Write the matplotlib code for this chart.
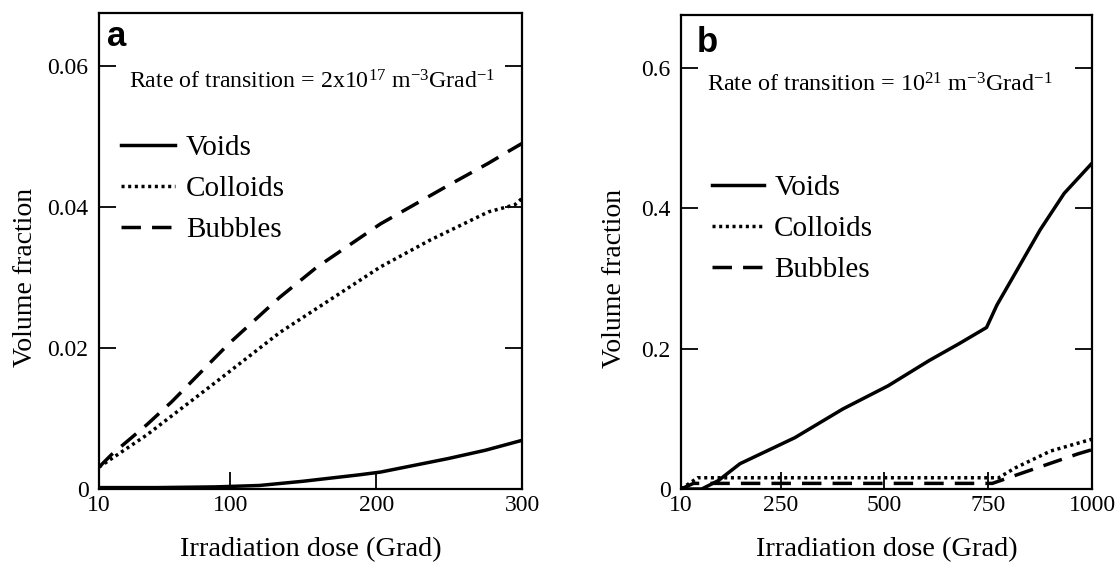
import numpy as np
import matplotlib
matplotlib.use("Agg")
import matplotlib.pyplot as plt

# panel a data (rate of transition 2x10^17)
dose_a_voids = [10, 50, 90, 120, 150, 188, 203, 249, 275, 300]
voids_a = [0.0002, 0.0002, 0.0003, 0.0005, 0.0011, 0.0020, 0.0024, 0.0043, 0.0055, 0.0069]
dose_a_coll = [10, 43, 91, 134, 203, 237, 277, 295, 300]
colloids_a = [0.0031, 0.0077, 0.0153, 0.0222, 0.0315, 0.0353, 0.0393, 0.0403, 0.0412]
dose_a_bub = [10, 18.7, 42.7, 60, 99, 134, 159, 203, 249, 277, 290, 300]
bubbles_a = [0.0031, 0.0049, 0.0091, 0.0124, 0.0206, 0.0272, 0.0314, 0.0376, 0.0430, 0.0462, 0.0478, 0.0490]

# panel b data (rate of transition 10^21)
dose_b_voids = [10, 60, 100, 152, 284, 400, 509, 608, 680, 746, 771, 808, 875, 933, 1000]
voids_b = [0.0, 0.0, 0.012, 0.036, 0.073, 0.114, 0.147, 0.183, 0.207, 0.230, 0.262, 0.300, 0.369, 0.421, 0.464]
dose_b_coll = [10, 50, 300, 500, 775, 815, 900, 1000]
colloids_b = [0.0, 0.016, 0.016, 0.016, 0.016, 0.030, 0.054, 0.071]
dose_b_bub = [10, 40, 300, 500, 760, 833, 966, 1000]
bubbles_b = [0.0, 0.008, 0.008, 0.008, 0.008, 0.023, 0.050, 0.056]

xticks_a = [10, 100, 200, 300]
xticks_b = [10, 250, 500, 750, 1000]
yticks_a = [0, 0.02, 0.04, 0.06]
ytick_lab_a = ['0', '0.02', '0.04', '0.06']
yticks_b = [0, 0.2, 0.4, 0.6]
ytick_lab_b = ['0', '0.2', '0.4', '0.6']

plt.rcParams['font.family'] = ['Liberation Serif', 'DejaVu Serif']
plt.rcParams['mathtext.fontset'] = 'custom'
plt.rcParams['mathtext.rm'] = 'Liberation Serif'
plt.rcParams['mathtext.it'] = 'Liberation Serif:italic'
plt.rcParams['lines.scale_dashes'] = False

W, H = 1115, 564
fig = plt.figure(figsize=(W / 100, H / 100), dpi=100)

def px_axes(l, t, r, b):
	return fig.add_axes([l / W, 1 - b / H, (r - l) / W, (b - t) / H])

def setup(ax, xt, yt, ylab, ylab_x):
	for s in ax.spines.values():
		s.set_linewidth(1.6)
	ax.tick_params(axis='both', direction='in', length=12, width=1.3, labelsize=17)
	ax.tick_params(axis='y', right=True, pad=7.5)
	ax.tick_params(axis='x', pad=4.5)
	ax.set_xticks(xt)
	ax.set_yticks(yt)
	ax.set_yticklabels(ylab)
	ax.set_xlabel('Irradiation dose (Grad)', fontsize=20.4, labelpad=15)
	ax.set_ylabel('Volume fraction', fontsize=20)
	ax.yaxis.set_label_coords(ylab_x, 0.445)

lw = 2.5
dash = (0, (14, 8))
dot = (0, (2.2, 2.6))

# panel a
ax1 = px_axes(99, 13, 522, 489)
ax1.plot(dose_a_voids, voids_a, color='black', lw=lw, label='Voids')
ax1.plot(dose_a_coll, colloids_a, color='black', lw=lw, ls=dot, label='Colloids')
ax1.plot(dose_a_bub, bubbles_a, color='black', lw=lw, ls=dash, label='Bubbles')
ax1.set_xlim(10, 300)
ax1.set_ylim(0, 0.0675)
setup(ax1, xticks_a, yticks_a, ytick_lab_a, -0.144)
ax1.text(0.07, 0.855, 'Rate of transition = 2x10$^{17}$ m$^{-3}$Grad$^{-1}$',
	transform=ax1.transAxes, fontsize=17.2, va='center')
ax1.text(0.019, 0.95, 'a', transform=ax1.transAxes, fontsize=25, fontweight='bold',
	family='Liberation Sans', va='center')
ax1.legend(loc='upper left', bbox_to_anchor=(0.025, 0.769), frameon=False, fontsize=21,
	handlelength=1.85, handletextpad=0.37, labelspacing=0.5, borderaxespad=0)

# panel b
ax2 = px_axes(681, 15, 1092, 489)
ax2.plot(dose_b_voids, voids_b, color='black', lw=lw, label='Voids')
ax2.plot(dose_b_coll, colloids_b, color='black', lw=lw, ls=dot, label='Colloids')
ax2.plot(dose_b_bub, bubbles_b, color='black', lw=lw, ls=dash, label='Bubbles')
ax2.set_xlim(10, 1000)
ax2.set_ylim(0, 0.675)
setup(ax2, xticks_b, yticks_b, ytick_lab_b, -0.131)
ax2.text(0.063, 0.852, 'Rate of transition = 10$^{21}$ m$^{-3}$Grad$^{-1}$',
	transform=ax2.transAxes, fontsize=17.4, va='center')
ax2.text(0.038, 0.941, 'b', transform=ax2.transAxes, fontsize=25, fontweight='bold',
	family='Liberation Sans', va='center')
ax2.legend(loc='upper left', bbox_to_anchor=(0.048, 0.688), frameon=False, fontsize=21,
	handlelength=1.76, handletextpad=0.36, labelspacing=0.5, borderaxespad=0)

fig.savefig('out.png', dpi=100)
